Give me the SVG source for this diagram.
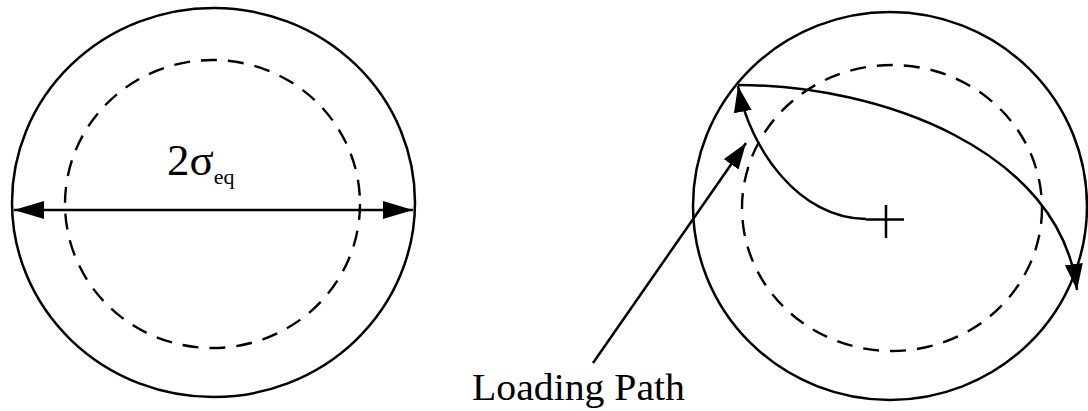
<svg xmlns="http://www.w3.org/2000/svg" width="1088" height="411" viewBox="0 0 1088 411">
<style>
.solid{fill:none;stroke:#000;stroke-width:2.5}
.dash{fill:none;stroke:#000;stroke-width:2.4;stroke-dasharray:16 11}
.conn{fill:none;stroke:#000;stroke-width:2.5}
.lbl{font-family:"Liberation Serif","Times New Roman",serif;fill:#000}
</style>
<defs>
<marker id="ah" markerUnits="userSpaceOnUse" markerWidth="30" markerHeight="20" refX="26" refY="9" orient="auto-start-reverse">
<path d="M0,0 L26,9 L0,18 z" fill="#000"/>
</marker>
<marker id="ahL" markerUnits="userSpaceOnUse" markerWidth="34" markerHeight="20" refX="30" refY="9" orient="auto-start-reverse">
<path d="M0,0 L30,9 L0,18 z" fill="#000"/>
</marker>
</defs>
<g id="left-yield-surface">
<ellipse class="solid" cx="213.5" cy="202.5" rx="201.5" ry="194.5"/>
<ellipse class="dash" cx="212.5" cy="204" rx="147.5" ry="144"/>
</g>
<g id="left-label">
<text class="lbl" x="167" y="175" font-size="45">2σ<tspan font-size="22" dy="9">eq</tspan></text>
</g>
<g id="right-yield-surface">
<ellipse class="solid" cx="890" cy="206" rx="197" ry="194"/>
<ellipse class="dash" cx="892" cy="208" rx="150" ry="143"/>
</g>
<g id="origin-cross">
<line class="solid" x1="866" y1="219.5" x2="904" y2="219.5"/>
<line class="solid" x1="886" y1="205" x2="886" y2="238"/>
</g>
<g id="loading-path-label">
<text class="lbl" x="472" y="400" font-size="38" textLength="213" lengthAdjust="spacingAndGlyphs">Loading Path</text>
</g>
<g id="connectors">
<line class="conn" x1="14" y1="210" x2="413" y2="210" marker-start="url(#ahL)" marker-end="url(#ahL)"/>
<path class="conn" d="M866,219 C800,219 750,150 738,86" marker-end="url(#ah)"/>
<path class="conn" d="M738,85 C880,85 1060,150 1077,290" marker-end="url(#ah)"/>
<line class="conn" x1="593" y1="363" x2="746" y2="143" marker-end="url(#ah)"/>
</g>
</svg>
